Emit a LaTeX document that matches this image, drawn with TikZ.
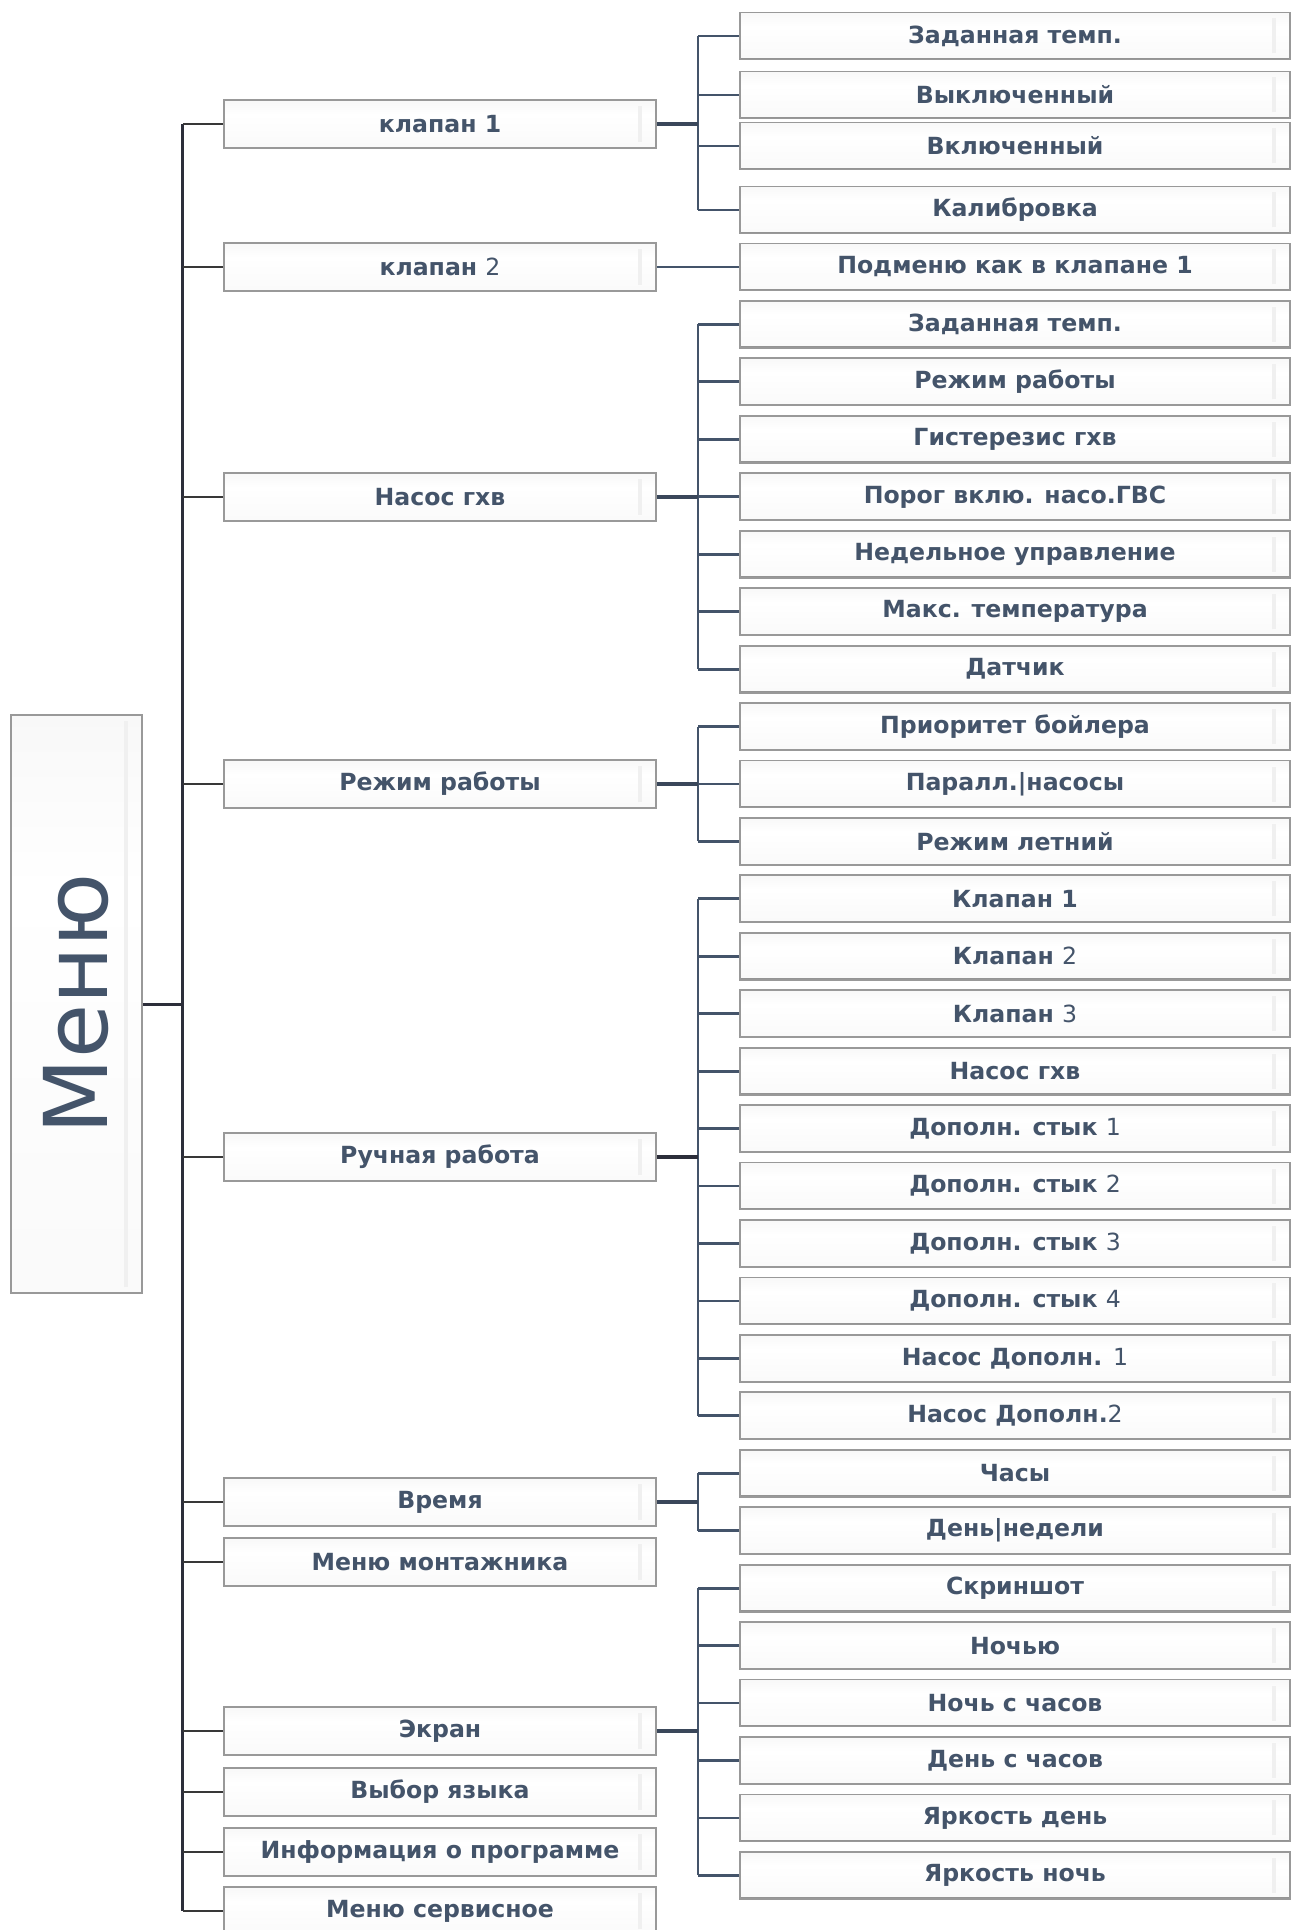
\documentclass[tikz,border=0pt]{standalone}
\usepackage{fontspec}
\setmainfont{DejaVu Sans}
\usepackage{graphicx}
\usetikzlibrary{calc}

\definecolor{slate}{HTML}{44546A}
\definecolor{trunkc}{HTML}{2C2E3A}
\newcommand{\lite}[1]{{\mdseries #1}}
\pgfdeclareverticalshading{glossy}{100bp}{color(0bp)=(black!10); color(10bp)=(black!3); color(60bp)=(white); color(82bp)=(black!4); color(95bp)=(black!10); color(100bp)=(black!16)}

\tikzset{
  button/.style={draw=black!40, line width=0.9pt, shade, shading=glossy, text=slate,
    inner sep=0pt,
    path picture={
      \draw[black!6, line width=1.8pt] ([shift={(-8pt,3pt)}]path picture bounding box.south east) -- ([shift={(-8pt,-3pt)}]path picture bounding box.north east);
      \draw[black!42, line width=1.4pt] (path picture bounding box.south west) -- (path picture bounding box.south east);
    }},
  menubox/.style={button, minimum width=65.5pt, minimum height=289pt},
  itemone/.style={button, minimum width=216pt, minimum height=24pt, font=\bfseries\fontsize{11.8}{13}\selectfont},
  itemtwo/.style={button, minimum width=275pt, minimum height=23.5pt, font=\bfseries\fontsize{11.8}{13}\selectfont},
  trunkline/.style={trunkc, line width=1.5pt},
  branchone/.style={black!78, line width=1pt},
  feed/.style={slate!85!black, line width=2pt},
  branchtwo/.style={slate, line width=1.4pt}
}

\begin{document}
\begin{tikzpicture}[x=0.5pt, y=-0.5pt]
  \useasboundingbox (0,0) rectangle (1292,1930);

  % Root
  \node[menubox] (menu) at (76.5,1004) {\rotatebox{90}{\fontsize{44}{44}\selectfont Меню}};

  % First level
  \node[itemone] (kl1) at (440,124) {клапан 1};
  \node[itemone] (kl2) at (440,267) {клапан \lite{2}};
  \node[itemone] (nasos) at (440,497) {Насос гхв};
  \node[itemone] (rezhim) at (440,784) {Режим работы};
  \node[itemone] (ruch) at (440,1157) {Ручная работа};
  \node[itemone] (vremya) at (440,1502) {Время};
  \node[itemone] (montazh) at (440,1562) {Меню монтажника};
  \node[itemone] (ekran) at (440,1731) {Экран};
  \node[itemone] (yazyk) at (440,1792) {Выбор языка};
  \node[itemone] (info) at (440,1852) {Информация о программе};
  \node[itemone] (servis) at (440,1911) {Меню сервисное};

  % Second level: клапан 1
  \node[itemtwo] (a1) at (1015,36) {Заданная темп.};
  \node[itemtwo] (a2) at (1015,95) {Выключенный};
  \node[itemtwo] (a3) at (1015,146) {Включенный};
  \node[itemtwo] (a4) at (1015,210) {Калибровка};

  % клапан 2
  \node[itemtwo] (b1) at (1015,267) {Подменю как в клапане 1};

  % Насос гхв
  \node[itemtwo] (c1) at (1015,324.4) {Заданная темп.};
  \node[itemtwo] (c2) at (1015,381.9) {Режим работы};
  \node[itemtwo] (c3) at (1015,439.3) {Гистерезис гхв};
  \node[itemtwo] (c4) at (1015,496.8) {Порог вклю. насо.ГВС};
  \node[itemtwo] (c5) at (1015,554.2) {Недельное управление};
  \node[itemtwo] (c6) at (1015,611.6) {Макс. температура};
  \node[itemtwo] (c7) at (1015,669.1) {Датчик};

  % Режим работы
  \node[itemtwo] (d1) at (1015,726.5) {Приоритет бойлера};
  \node[itemtwo] (d2) at (1015,784) {Паралл.|насосы};
  \node[itemtwo] (d3) at (1015,841.4) {Режим летний};

  % Ручная работа
  \node[itemtwo] (e1) at (1015,898.8) {Клапан 1};
  \node[itemtwo] (e2) at (1015,956.3) {Клапан \lite{2}};
  \node[itemtwo] (e3) at (1015,1013.7) {Клапан \lite{3}};
  \node[itemtwo] (e4) at (1015,1071.2) {Насос гхв};
  \node[itemtwo] (e5) at (1015,1128.6) {Дополн. стык \lite{1}};
  \node[itemtwo] (e6) at (1015,1186) {Дополн. стык \lite{2}};
  \node[itemtwo] (e7) at (1015,1243.5) {Дополн. стык \lite{3}};
  \node[itemtwo] (e8) at (1015,1300.9) {Дополн. стык \lite{4}};
  \node[itemtwo] (e9) at (1015,1358.4) {Насос Дополн. \lite{1}};
  \node[itemtwo] (e10) at (1015,1415.8) {Насос Дополн.\lite{2}};

  % Время
  \node[itemtwo] (f1) at (1015,1473.2) {Часы};
  \node[itemtwo] (f2) at (1015,1530.7) {День|недели};

  % Экран
  \node[itemtwo] (g1) at (1015,1588.1) {Скриншот};
  \node[itemtwo] (g2) at (1015,1645.6) {Ночью};
  \node[itemtwo] (g3) at (1015,1703) {Ночь с часов};
  \node[itemtwo] (g4) at (1015,1760.4) {День с часов};
  \node[itemtwo] (g5) at (1015,1817.9) {Яркость день};
  \node[itemtwo] (g6) at (1015,1875.3) {Яркость ночь};

  % Trunk from the root
  \coordinate (trunk) at (182.5,1004);
  \coordinate (bus) at (698,0);
  \draw[trunkline] (kl1.west -| trunk) -- (servis.west -| trunk);
  \draw[trunkline] (menu.east) -- (trunk);
  \foreach \n in {kl1,kl2,nasos,rezhim,ruch,vremya,montazh,ekran,yazyk,info,servis}
    \draw[branchone] (\n.west) -- (\n.west -| trunk);

  % клапан 1 group
  \draw[branchtwo] (a1.west -| bus) -- (a4.west -| bus);
  \foreach \n in {a1,a2,a3,a4}
    \draw[branchtwo] (\n.west) -- (\n.west -| bus);
  \draw[feed] (kl1.east) -- (kl1.east -| bus);

  % клапан 2
  \draw[branchtwo] (kl2.east) -- (b1.west);

  % Насос гхв group
  \draw[branchtwo] (c1.west -| bus) -- (c7.west -| bus);
  \foreach \n in {c1,c2,c3,c4,c5,c6,c7}
    \draw[branchtwo] (\n.west) -- (\n.west -| bus);
  \draw[feed] (nasos.east) -- (nasos.east -| bus);

  % Режим работы group
  \draw[branchtwo] (d1.west -| bus) -- (d3.west -| bus);
  \foreach \n in {d1,d2,d3}
    \draw[branchtwo] (\n.west) -- (\n.west -| bus);
  \draw[feed] (rezhim.east) -- (rezhim.east -| bus);

  % Ручная работа group
  \draw[branchtwo] (e1.west -| bus) -- (e10.west -| bus);
  \foreach \n in {e1,e2,e3,e4,e5,e6,e7,e8,e9,e10}
    \draw[branchtwo] (\n.west) -- (\n.west -| bus);
  \draw[feed, trunkc] (ruch.east) -- (ruch.east -| bus);

  % Время group
  \draw[branchtwo] (f1.west -| bus) -- (f2.west -| bus);
  \foreach \n in {f1,f2}
    \draw[branchtwo] (\n.west) -- (\n.west -| bus);
  \draw[feed] (vremya.east) -- (vremya.east -| bus);

  % Экран group
  \draw[branchtwo] (g1.west -| bus) -- (g6.west -| bus);
  \foreach \n in {g1,g2,g3,g4,g5,g6}
    \draw[branchtwo] (\n.west) -- (\n.west -| bus);
  \draw[feed] (ekran.east) -- (ekran.east -| bus);
\end{tikzpicture}
\end{document}
